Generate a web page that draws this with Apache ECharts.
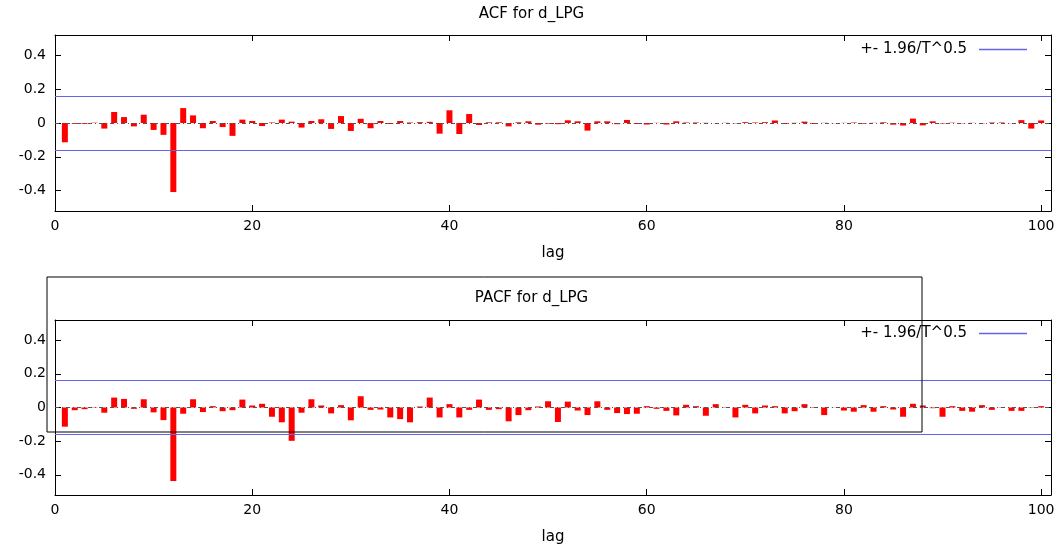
<!DOCTYPE html>
<html>
<head>
<meta charset="utf-8">
<script src="https://cdn.jsdelivr.net/npm/echarts@6/dist/echarts.min.js"></script>
<style>
  html, body { margin: 0; padding: 0; background: #fff; }
  #chart { width: 1063px; height: 546px; }
</style>
</head>
<body>
<div id="chart"></div>
<script>
// values, lags 1..100
const acfValues = [
  -0.114, -0.005, -0.005, 0.002, -0.033, 0.065, 0.035, -0.020, 0.049, -0.041,
  -0.070, -0.408, 0.088, 0.045, -0.031, 0.012, -0.024, -0.076, 0.020, 0.012,
  -0.018, 0.003, 0.020, 0.008, -0.027, 0.012, 0.022, -0.035, 0.041, -0.047,
  0.025, -0.031, 0.012, -0.006, 0.012, 0.003, 0.005, 0.007, -0.063, 0.075,
  -0.065, 0.053, -0.012, 0.004, 0.004, -0.020, 0.004, 0.010, -0.010, -0.004,
  -0.007, 0.016, 0.010, -0.045, 0.010, 0.010, -0.007, 0.018, -0.006, -0.009,
  0.001, -0.009, 0.010, 0.003, 0.003, 0.001, -0.001, 0.001, -0.002, 0.005,
  0.003, 0.005, 0.015, -0.006, 0.001, 0.008, -0.006, 0.001, -0.001, 0.001,
  0.003, -0.004, 0.001, 0.004, -0.010, -0.015, 0.026, -0.014, 0.010, -0.003,
  0.002, -0.002, 0.001, -0.002, 0.003, 0.003, -0.001, 0.017, -0.033, 0.015
];
const pacfValues = [
  -0.114, -0.016, -0.010, 0.002, -0.031, 0.059, 0.051, -0.008, 0.049, -0.029,
  -0.075, -0.437, -0.037, 0.049, -0.027, 0.008, -0.022, -0.016, 0.047, 0.012,
  0.022, -0.055, -0.088, -0.198, -0.031, 0.049, 0.012, -0.035, 0.014, -0.076,
  0.067, -0.014, -0.012, -0.059, -0.069, -0.088, 0.006, 0.059, -0.059, 0.020,
  -0.059, -0.014, 0.047, -0.014, -0.010, -0.082, -0.045, -0.016, 0.006, 0.037,
  -0.086, 0.035, -0.018, -0.045, 0.037, -0.014, -0.033, -0.039, -0.037, 0.008,
  -0.008, -0.020, -0.047, 0.016, 0.008, -0.049, 0.020, 0.002, -0.059, 0.016,
  -0.035, 0.012, 0.008, -0.035, -0.022, 0.020, -0.003, -0.045, 0.001, -0.018,
  -0.025, 0.014, -0.025, 0.008, -0.012, -0.055, 0.022, 0.012, -0.004, -0.055,
  0.008, -0.020, -0.025, 0.014, -0.014, 0.002, -0.020, -0.020, 0.002, 0.008
];
const band = 0.164;
const xTicks = [0, 20, 40, 60, 80, 100];
const yTicks = [-0.4, -0.2, 0, 0.2, 0.4];
const bandName = '+- 1.96/T^0.5';

const font = 'DejaVu Sans';
const bandColor = '#6464e8';
const chart = echarts.init(document.getElementById('chart'));

const toPairs = vals => vals.map((v, i) => [i + 1, v]);

function xAxisFor(gridIndex, position, showLabel) {
  return {
    type: 'value', gridIndex, position, min: 0, max: 101,
    name: showLabel ? 'lag' : '', nameLocation: 'middle', nameGap: 35,
    nameTextStyle: { color: '#000', fontFamily: font, fontSize: 15 },
    axisLine: { show: true, onZero: false, lineStyle: { color: '#000', width: 1 } },
    axisTick: { show: true, inside: true, length: 6, customValues: xTicks, lineStyle: { color: '#000' } },
    axisLabel: { show: showLabel, customValues: xTicks, margin: 8, color: '#000', fontFamily: font, fontSize: 14 },
    splitLine: { show: false }
  };
}

function yAxisFor(gridIndex, position, showLabel) {
  return {
    type: 'value', gridIndex, position, min: -0.52, max: 0.52,
    axisLine: { show: true, onZero: false, lineStyle: { color: '#000', width: 1 } },
    axisTick: { show: true, inside: true, length: 6, customValues: yTicks, lineStyle: { color: '#000' } },
    axisLabel: { show: showLabel, customValues: yTicks, margin: 9, color: '#000', fontFamily: font, fontSize: 14,
      formatter: v => (v === 0 ? '0' : String(v)) },
    splitLine: { show: false }
  };
}

function barSeries(name, vals, axisIdx) {
  return {
    name, type: 'bar', xAxisIndex: axisIdx, yAxisIndex: axisIdx,
    data: toPairs(vals), barWidth: 6, itemStyle: { color: '#ff0000' },
    silent: true,
    markLine: {
      silent: true, symbol: 'none', label: { show: false },
      lineStyle: { color: '#555', width: 1, type: [4, 3, 1, 3] },
      data: [{ yAxis: 0 }]
    }
  };
}

function bandSeries(axisIdx) {
  return {
    name: bandName, type: 'line', xAxisIndex: axisIdx, yAxisIndex: axisIdx,
    data: [], symbol: 'none', lineStyle: { color: bandColor, width: 1.2 },
    markLine: {
      silent: true, symbol: 'none', label: { show: false },
      lineStyle: { color: bandColor, width: 1.2, type: 'solid' },
      data: [{ yAxis: band }, { yAxis: -band }]
    }
  };
}

const legendBase = {
  data: [{ name: bandName, icon: 'rect' }],
  right: 31, align: 'right', itemWidth: 48, itemHeight: 1.5, itemGap: 0,
  textStyle: { color: '#000', fontFamily: font, fontSize: 15, padding: [0, 7, 0, 0] },
  itemStyle: { color: bandColor }
};

const titleStyle = { fontFamily: font, fontSize: 15, fontWeight: 'normal', color: '#000' };

const option = {
  animation: false,
  backgroundColor: '#fff',
  title: [
    { text: 'ACF for d_LPG', left: 'center', top: 2, textStyle: titleStyle },
    { text: 'PACF for d_LPG', left: 'center', top: 286, textStyle: titleStyle }
  ],
  legend: [
    Object.assign({}, legendBase, { top: 37 }),
    Object.assign({}, legendBase, { top: 321 })
  ],
  grid: [
    { left: 55, top: 35, width: 996, height: 176 },
    { left: 55, top: 320, width: 996, height: 176 }
  ],
  xAxis: [
    xAxisFor(0, 'bottom', true), xAxisFor(1, 'bottom', true),
    xAxisFor(0, 'top', false), xAxisFor(1, 'top', false)
  ],
  yAxis: [
    yAxisFor(0, 'left', true), yAxisFor(1, 'left', true),
    yAxisFor(0, 'right', false), yAxisFor(1, 'right', false)
  ],
  series: [
    barSeries('ACF', acfValues, 0),
    bandSeries(0),
    barSeries('PACF', pacfValues, 1),
    bandSeries(1)
  ],
  graphic: [{
    type: 'rect', silent: true, z: 100,
    shape: { x: 47, y: 277, width: 875, height: 155 },
    style: { fill: null, stroke: '#000', lineWidth: 1 }
  }]
};

chart.setOption(option);
</script>
</body>
</html>
